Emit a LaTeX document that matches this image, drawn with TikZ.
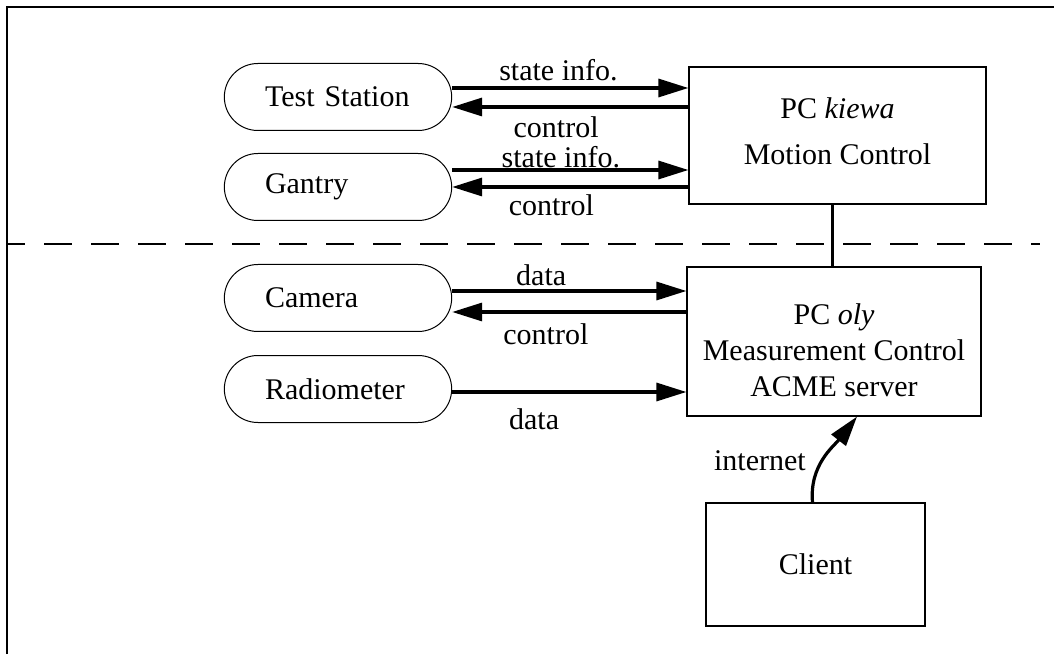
\documentclass[tikz,border=0pt]{standalone}
\usepackage{fontspec}
\setmainfont{Liberation Serif}
\usetikzlibrary{arrows.meta,shapes.misc}

\begin{document}
\begin{tikzpicture}[x=1pt,y=1pt,font=\fontsize{30}{36}\selectfont,
    flow/.style={line width=3.2pt,-{Triangle[length=30pt,width=18pt]}}]

        \useasboundingbox (0,0) rectangle (1054,654);

        % frame and the dashed split
        \draw[line width=2pt] (7,0) -- (7,647) -- (1054,647);
        \draw[line width=1.4pt,dash pattern=on 28pt off 19pt,dash phase=11pt] (8,410) -- (1040,410);

        \begin{scope}[every node/.style={rounded rectangle,draw,line width=1pt,
            minimum width=234pt,minimum height=67pt,text width=146pt,align=left}]
          \node (ts)     at (338,557) {Test Station};
          \node (gantry) at (338,467) {Gantry};
          \node (camera) at (338,356) {Camera};
          \node (radio)  at (338,265) {Radiometer};
        \end{scope}

        \begin{scope}[every node/.style={draw,line width=1.2pt,align=center}]
          \node[minimum width=297pt,minimum height=137pt] (kiewa)  at (837.5,518.5) {PC \textit{kiewa}\\[10pt]Motion Control\rule[-8pt]{0pt}{8pt}};
          \node[minimum width=294pt,minimum height=149pt] (oly)    at (834,312.5) {\rule{0pt}{39pt}PC \textit{oly}\\Measurement Control\\ACME server};
          \node[minimum width=219pt,minimum height=123pt] (client) at (815.5,89.5) {Client};
        \end{scope}

        \begin{scope}[every node/.style={inner sep=2pt}]
          \draw[flow] ([yshift=9pt]ts.east) -- node[pos=.45,above=3pt] {state info.} ([yshift=9pt]ts.east -| kiewa.west);
          \draw[flow] ([yshift=-10pt]ts.east -| kiewa.west) -- node[pos=.56,below=6pt] {control} ([yshift=-10pt]ts.east);
          \draw[flow] ([yshift=17pt]gantry.east) -- node[pos=.46,above=-2pt] {state info.} ([yshift=17pt]gantry.east -| kiewa.west);
          \draw[flow] (gantry.east -| kiewa.west) -- node[pos=.58,below=4pt] {control} (gantry.east);
          \draw[flow] ([yshift=7pt]camera.east) -- node[pos=.38,above=2pt] {data} ([yshift=7pt]camera.east -| oly.west);
          \draw[flow] ([yshift=-14pt]camera.east -| oly.west) -- node[pos=.6,below=8pt] {control} ([yshift=-14pt]camera.east);
          \draw[flow] ([yshift=-3pt]radio.east) -- node[pos=.35,below=13pt] {data} ([yshift=-3pt]radio.east -| oly.west);
          \draw[line width=3pt] ([xshift=-5pt]kiewa.south) -- ([xshift=-5pt]kiewa.south |- oly.north);
          \draw[flow] ([xshift=-3pt]client.north) to[out=95,in=232] node[pos=.45,left=13pt] {internet} ([xshift=23pt]oly.south);
        \end{scope}

      \end{tikzpicture}
\end{document}
